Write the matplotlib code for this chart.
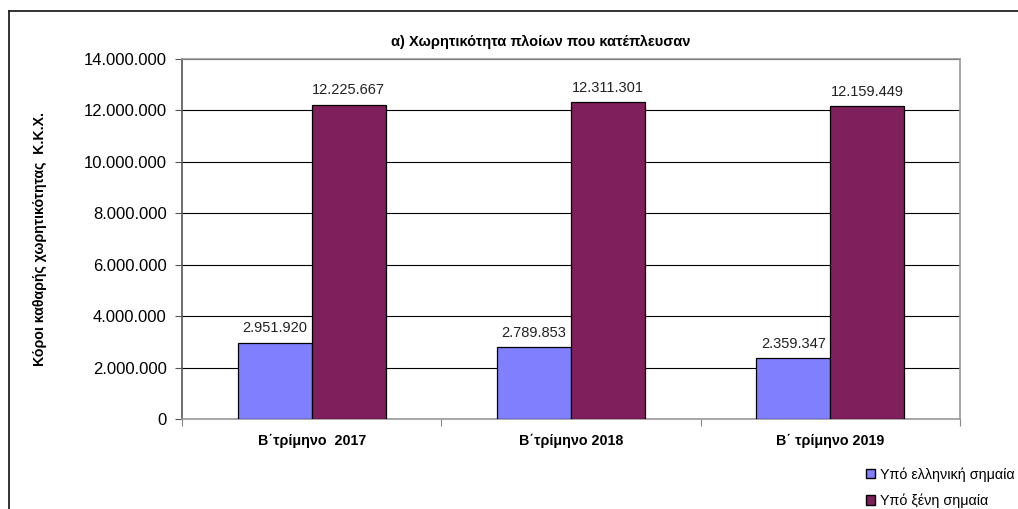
import matplotlib.pyplot as plt
import numpy as np
from matplotlib.ticker import FuncFormatter, FixedLocator
from matplotlib.lines import Line2D
from matplotlib.patches import Patch

plt.rcParams['font.family'] = ['Liberation Sans', 'DejaVu Sans']

categories = ['Β΄τρίμηνο  2017', 'Β΄τρίμηνο 2018', 'Β΄ τρίμηνο 2019']
greek_flag = [2951920, 2789853, 2359347]
foreign_flag = [12225667, 12311301, 12159449]
series_names = ['Υπό ελληνική σημαία', 'Υπό ξένη σημαία']

BLUE = '#8080FF'
PURPLE = '#7F1F5C'

def dotted(v, _=None):
    return f'{int(round(v)):,}'.replace(',', '.')

W, H = 1018, 509
fig = plt.figure(figsize=(W / 100, H / 100), dpi=100)
ax = fig.add_axes([182 / W, 1 - 419 / H, (960 - 182) / W, (419 - 59) / H])

x = np.arange(len(categories))
bw = 0.285
ax.bar(x - bw / 2, greek_flag, bw, color=BLUE, edgecolor='black', linewidth=0.9, zorder=3)
ax.bar(x + bw / 2, foreign_flag, bw, color=PURPLE, edgecolor='black', linewidth=0.9, zorder=3)

for xi, v in zip(x - bw / 2, greek_flag):
    ax.text(xi, v + 300000, dotted(v), ha='center', va='bottom', fontsize=10.5, color='#222222')
for xi, v in zip(x + bw / 2, foreign_flag):
    ax.text(xi, v + 300000, dotted(v), ha='center', va='bottom', fontsize=10.5, color='#222222')

ax.set_xlim(-0.5, len(categories) - 0.5)
ax.set_ylim(0, 14000000)
ax.set_yticks(np.arange(0, 14000001, 2000000))
ax.yaxis.set_major_formatter(FuncFormatter(dotted))
ax.tick_params(axis='y', labelsize=12, length=5, color='#555555', pad=6)
ax.yaxis.grid(True, color='black', linewidth=0.8, zorder=0)
ax.set_axisbelow(True)

ax.xaxis.set_major_locator(FixedLocator([-0.5, 0.5, 1.5, 2.5]))
ax.set_xticklabels([])
ax.xaxis.set_minor_locator(FixedLocator(x))
ax.set_xticklabels(categories, minor=True, fontsize=10.3, fontweight='bold')
ax.tick_params(axis='x', which='major', length=5, color='#888888')
ax.tick_params(axis='x', which='minor', length=0, pad=11)

for side in ['top', 'right', 'bottom']:
    ax.spines[side].set_color('#999999')
    ax.spines[side].set_linewidth(1.2)
ax.spines['left'].set_color('#555555')
ax.spines['left'].set_linewidth(1.2)

ax.set_ylabel('Κόροι καθαρής χωρητικότητας  Κ.Κ.Χ.', fontsize=10.2, fontweight='bold')
ax.yaxis.set_label_coords((47 - 182) / (960 - 182), 0.5)

fig.text(541 / W, 1 - 42 / H, 'α) Χωρητικότητα πλοίων που κατέπλευσαν',
         ha='center', va='center', fontsize=10.5, fontweight='bold')

# outer frame: top and left edges
fig.add_artist(Line2D([9 / W, 1], [1 - 11 / H, 1 - 11 / H], color='#222222', linewidth=1.3,
                      transform=fig.transFigure))
fig.add_artist(Line2D([9 / W, 9 / W], [0, 1 - 11 / H], color='#222222', linewidth=1.3,
                      transform=fig.transFigure))

handles = [Patch(facecolor=BLUE, edgecolor='black'), Patch(facecolor=PURPLE, edgecolor='black')]
fig.legend(handles, series_names, loc='upper left', bbox_to_anchor=(866 / W, 1 - 467 / H),
           frameon=False, fontsize=10.3, handlelength=0.65, handleheight=0.65,
           handletextpad=0.3, labelspacing=0.85, borderaxespad=0, borderpad=0)

fig.savefig('out.png', dpi=100)
